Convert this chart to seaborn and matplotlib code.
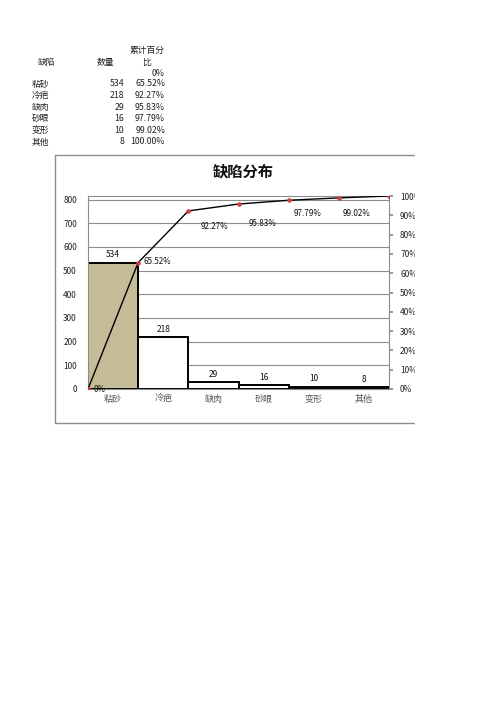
import numpy as np
import matplotlib
matplotlib.use("Agg")
import matplotlib.pyplot as plt
import seaborn as sns
from matplotlib.lines import Line2D
from matplotlib.patches import Rectangle

# data read from the sheet
categories = ["粘砂", "冷疤", "缺肉", "砂眼", "变形", "其他"]
counts = [534, 218, 29, 16, 10, 8]
cum_pct = [0, 65.52, 92.27, 95.83, 97.79, 99.02, 100.00]
cum_labels = ["0%", "65.52%", "92.27%", "95.83%", "97.79%", "99.02%", "100.00%"]

sns.set_theme(style="white")
plt.rcParams['font.family'] = ['Noto Sans CJK SC', 'DejaVu Sans']

W, H = 496, 702
fig = plt.figure(figsize=(W / 100, H / 100), dpi=100)


def fx(x):
    return x / W


def fy(y):
    return 1 - y / H


# ---- table above the chart ----
tcol = "#222222"
tfs = 6.3
fig.text(fx(47), fy(63), "缺陷", ha="center", va="center", fontsize=tfs, color=tcol)
fig.text(fx(105), fy(63), "数量", ha="center", va="center", fontsize=tfs, color=tcol)
fig.text(fx(147), fy(50), "累计百分", ha="center", va="center", fontsize=tfs, color=tcol)
fig.text(fx(147), fy(62), "比", ha="center", va="center", fontsize=tfs, color=tcol)
fig.text(fx(165), fy(73), cum_labels[0], ha="right", va="center", fontsize=tfs, color=tcol)
for i, (c, n, p) in enumerate(zip(categories, counts, cum_labels[1:])):
    y = 84 + i * 11.6
    fig.text(fx(32), fy(y), c, ha="left", va="center", fontsize=tfs, color=tcol)
    fig.text(fx(124), fy(y), str(n), ha="right", va="center", fontsize=tfs, color=tcol)
    fig.text(fx(165), fy(y), p, ha="right", va="center", fontsize=tfs, color=tcol)

# ---- chart frame (cropped on the right) ----
fc = "#8c8c8c"
fig.add_artist(Line2D([fx(54.5), fx(415)], [fy(155), fy(155)], color=fc, lw=1.0))
fig.add_artist(Line2D([fx(54.5), fx(415)], [fy(423), fy(423)], color=fc, lw=1.0))
fig.add_artist(Line2D([fx(54.5), fx(54.5)], [fy(155), fy(423)], color=fc, lw=1.0))

fig.text(fx(243), fy(171), "缺陷分布", ha="center", va="center",
         fontsize=11, fontweight="bold", color="#111111")

# ---- bars ----
ax = fig.add_axes([fx(88), fy(389), fx(389) - fx(88), fy(196) - fy(389)])
bar_colors = ["#C4BD97"] + ["white"] * (len(categories) - 1)
sns.barplot(x=categories, y=counts, hue=categories, palette=bar_colors, legend=False,
            saturation=1, width=1.0, edgecolor="black", linewidth=1.4, ax=ax, zorder=2)
ax.set_xlim(-0.5, len(categories) - 0.5)
ax.set_ylim(0, sum(counts))
ax.set_yticks(np.arange(0, 801, 100))
ax.yaxis.grid(True, color="#8c8c8c", lw=0.8, zorder=0)
ax.set_axisbelow(True)
for s in ax.spines.values():
    s.set_color("#8c8c8c")
    s.set_linewidth(0.8)
ax.tick_params(axis="y", labelsize=6, colors="#222222", length=0, pad=8)
ax.tick_params(axis="x", which="major", labelsize=6.5, labelcolor="#555555", length=0, pad=4)
ax.set_xticks(np.arange(-0.5, len(categories)), minor=True)
ax.tick_params(axis="x", which="minor", length=3, color="#8c8c8c", direction="out")
for i, n in enumerate(counts):
    ax.annotate(str(n), (i, n), xytext=(0, 8), textcoords="offset pixels",
                ha="center", va="center", fontsize=6, color="#111111")

# ---- cumulative line ----
ax2 = ax.twinx()
edges = np.arange(-0.5, len(categories))
sns.lineplot(x=edges, y=cum_pct, ax=ax2, color="black", lw=1.0, marker="o",
             markersize=2.5, markerfacecolor="#d04040", markeredgecolor="#d04040", zorder=5)
ax2.set_xlim(-0.5, len(categories) - 0.5)
ax2.set_ylim(0, 100)
ax2.set_yticks(np.arange(0, 101, 10))
ax2.set_yticklabels([f"{v}%" for v in range(0, 101, 10)])
ax2.tick_params(axis="y", labelsize=6, colors="#222222", length=3, pad=5)
ax2.tick_params(axis="y", color="#8c8c8c")
ax2.grid(False)
for s in ax2.spines.values():
    s.set_visible(False)

label_offsets = [(6, 0, "left"), (5, 1, "left"), (26, -16, "center"), (24, -19, "center"),
                 (19, -13, "center"), (18, -16, "center")]
for xv, yv, lab, (dx, dy, ha) in zip(edges, cum_pct, cum_labels, label_offsets):
    ax2.annotate(lab, (xv, yv), xytext=(dx, dy), textcoords="offset pixels",
                 ha=ha, va="center", fontsize=5.8, color="#111111")

# the sheet cuts the chart off on the right
fig.add_artist(Rectangle((fx(415), fy(430)), 1 - fx(415), fy(150) - fy(430),
                         transform=fig.transFigure, color="white", zorder=10))

fig.savefig("out.png", dpi=100)
